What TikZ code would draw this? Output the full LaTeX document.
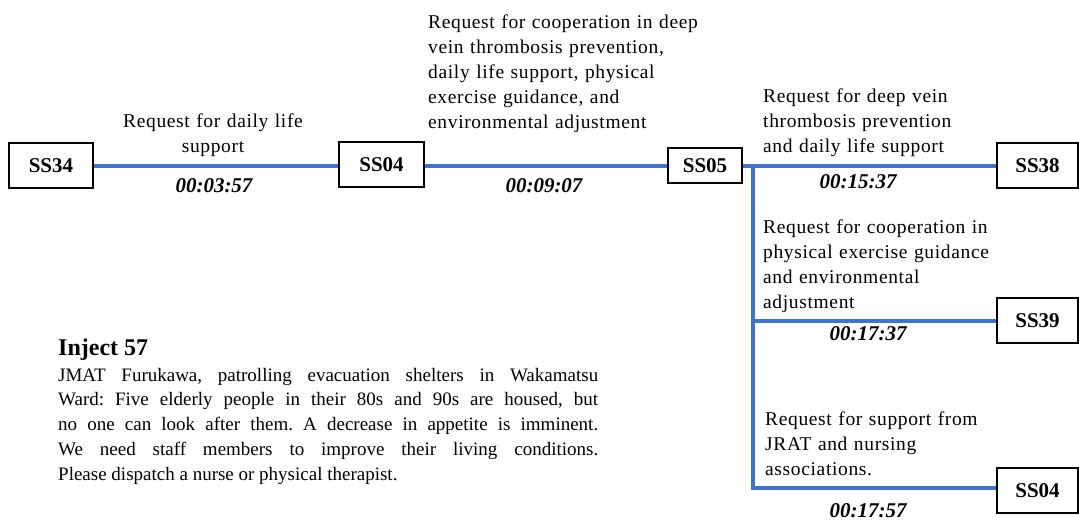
\documentclass[tikz,border=0pt]{standalone}
\usepackage{fontspec}
\setmainfont{Liberation Serif}
\definecolor{linkblue}{HTML}{4472C4}
\newcommand{\reqfont}{\fontsize{19.5}{25}\selectfont\addfontfeature{LetterSpace=3.3}}
\newcommand{\bodyfont}{\fontsize{19}{24.8}\selectfont\frenchspacing}
\begin{document}
\begin{tikzpicture}[x=1pt,y=-1pt,
  ssbox/.style={draw, line width=1.4pt, inner sep=0pt, fill=white,
    font=\bfseries\fontsize{21}{25}\selectfont},
  link/.style={draw=linkblue, line width=4pt},
  req/.style={font=\reqfont, align=left, inner sep=0pt, anchor=base west},
  tstamp/.style={font=\bfseries\itshape\fontsize{21}{25}\selectfont, inner sep=0pt, anchor=base}]
\useasboundingbox (0,0) rectangle (1079,520);

% stations
\node[ssbox, minimum width=84pt, minimum height=45pt] (ss34) at (51,165.5) {SS34};
\node[ssbox, minimum width=85pt, minimum height=45pt] (ss04) at (381.5,164.5) {SS04};
\node[ssbox, minimum width=74pt, minimum height=35pt] (ss05) at (705,165.5) {SS05};
\node[ssbox, minimum width=81pt, minimum height=45pt] (ss38) at (1037.5,165.5) {SS38};
\node[ssbox, minimum width=81pt, minimum height=45pt] (ss39) at (1037.5,320.5) {SS39};
\node[ssbox, minimum width=81pt, minimum height=45pt] (ss04b) at (1037.5,490.5) {SS04};

% connectors
\coordinate (branch) at (753,165.5);
\coordinate (kneeA) at (753,321);
\coordinate (kneeB) at (753,488);
\draw[link] (ss34.east) -- (ss34.east -| ss04.west);
\draw[link] (ss04.east |- ss05.west) -- (ss05.west);
\draw[link] (ss05.east) -- (ss38.west);
\draw[link, line join=miter] (branch) -- (kneeB) -- (kneeB -| ss04b.west);
\draw[link] (kneeA) -- (kneeA -| ss39.west);

% request labels
\node[req, text width=220pt, align=center, anchor=base] (r1) at (213,127)
  {Request for daily life\\support};
\node[req, text width=300pt] (r2) at (428,28)
  {Request for cooperation in deep\\vein thrombosis prevention,\\daily life support, physical\\exercise guidance, and\\environmental adjustment};
\node[req, text width=250pt] (r3) at (763,102)
  {Request for deep vein\\thrombosis prevention\\and daily life support};
\node[req, text width=250pt] (r4) at (763,233)
  {Request for cooperation in\\physical exercise guidance\\and environmental\\adjustment};
\node[req, text width=250pt] (r5) at (765,425)
  {Request for support from\\JRAT and nursing\\associations.};

% elapsed times
\node[tstamp] (t1) at (214,192) {00:03:57};
\node[tstamp] (t2) at (544,192) {00:09:07};
\node[tstamp] (t3) at (858,188) {00:15:37};
\node[tstamp] (t4) at (868,340) {00:17:37};
\node[tstamp] (t5) at (868,517) {00:17:57};

% inject description
\node[inner sep=0pt, anchor=base west, font=\bfseries\fontsize{24}{28}\selectfont] (inj) at (58,355) {Inject 57};
\node[inner sep=0pt, anchor=base west, text width=540pt, align=justify, font=\bodyfont] (desc) at (58,381)
  {JMAT Furukawa, patrolling evacuation shelters in Wakamatsu\linebreak
   Ward: Five elderly people in their 80s and 90s are housed, but\linebreak
   no one can look after them. A decrease in appetite is imminent.\linebreak
   We need staff members to improve their living conditions.\linebreak
   Please dispatch a nurse or physical therapist.};
\end{tikzpicture}
\end{document}
